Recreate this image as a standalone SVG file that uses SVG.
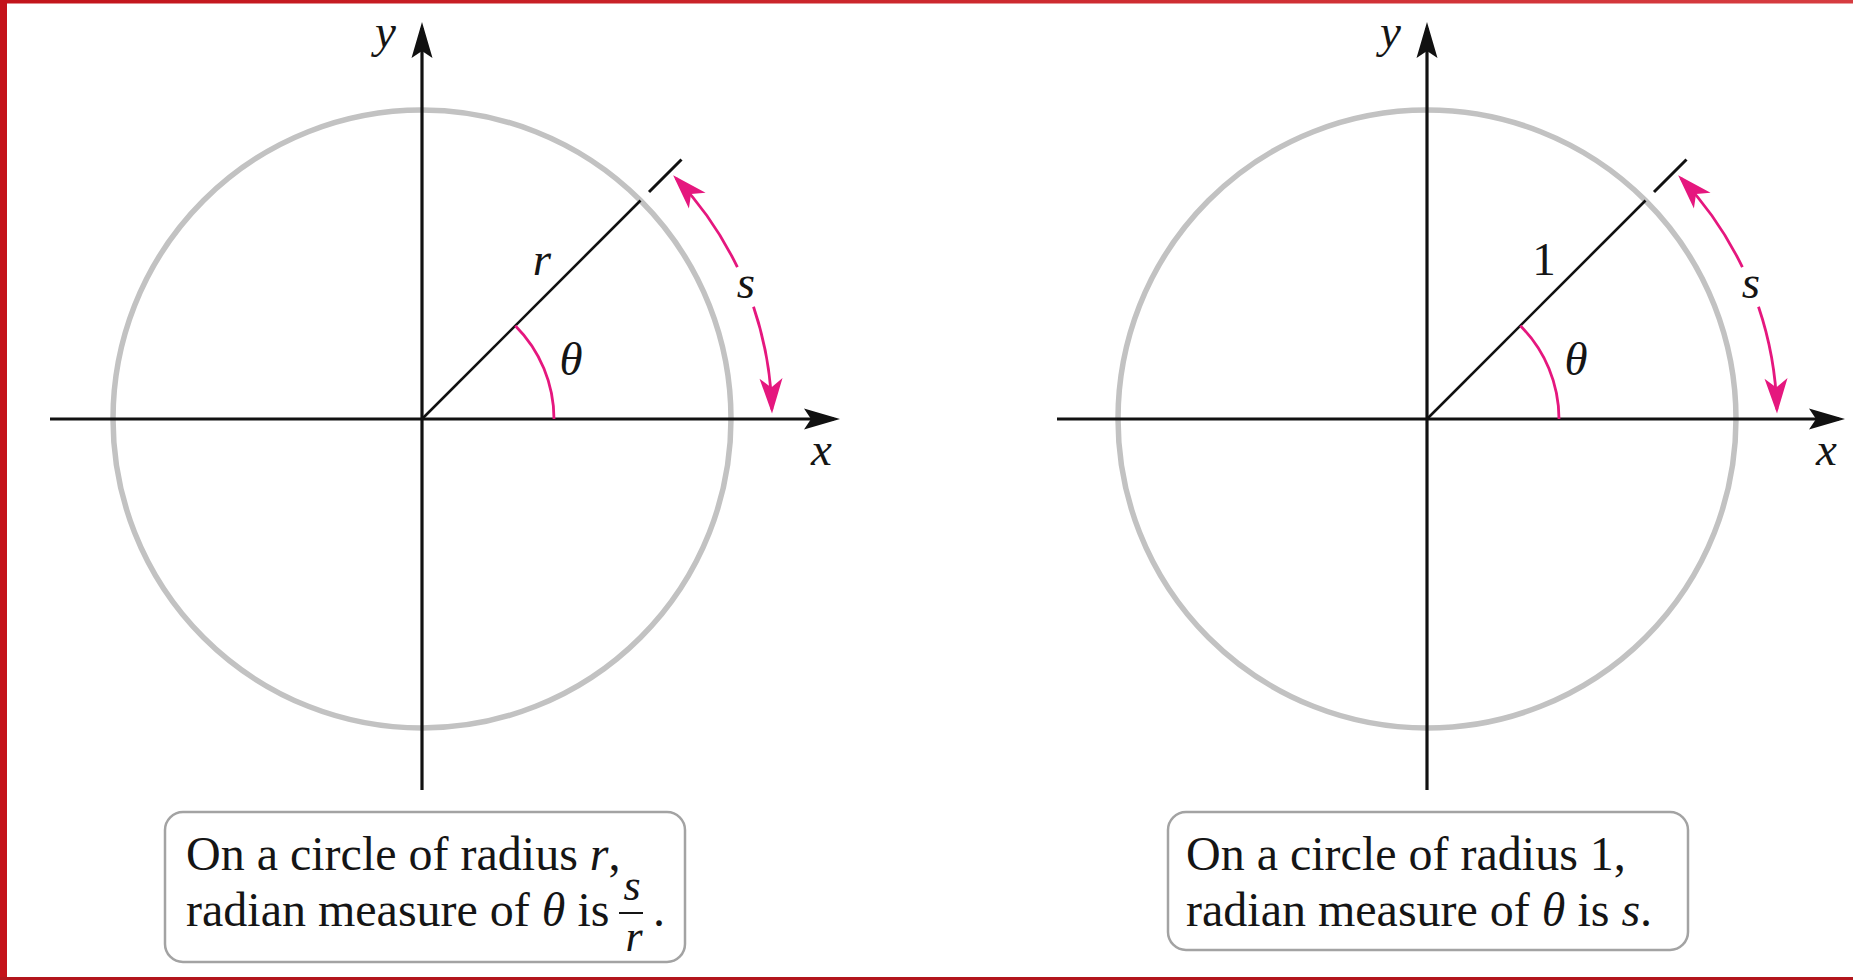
<svg xmlns="http://www.w3.org/2000/svg" width="1853" height="980" viewBox="0 0 1853 980">
<style>
  text { font-family: "Liberation Serif", "Times New Roman", serif; fill: #151515; }
  .lbl { font-size: 47px; font-style: italic; }
  .up { font-style: normal; }
  .it { font-style: italic; }
  .box-text { font-size: 48px; }
  .circ { fill: none; stroke: #c2c2c2; stroke-width: 5.5; }
  .axis { fill: none; stroke: #111; stroke-width: 3.2; }
  .rad { fill: none; stroke: #111; stroke-width: 2.6; }
  .tick { fill: none; stroke: #111; stroke-width: 3; }
  .pink { fill: none; stroke: #e5177e; stroke-width: 2.8; }
  .box { fill: #ffffff; stroke: #a3a3a3; stroke-width: 2.5; }
</style>
<defs>
  <linearGradient id="topbar" x1="0" y1="0" x2="1" y2="0">
    <stop offset="0" stop-color="#c2141b"/>
    <stop offset="1" stop-color="#d63c40"/>
  </linearGradient>
  <marker id="axisArrow" markerUnits="userSpaceOnUse" viewBox="-34 -13 42 26" markerWidth="42" markerHeight="26" refX="0" refY="0" orient="auto">
    <path d="M6,0 L-30,-10.5 L-23,0 L-30,10.5 Z" fill="#111"/>
  </marker>
  <marker id="pinkArrow" markerUnits="userSpaceOnUse" viewBox="-36 -14 42 28" markerWidth="42" markerHeight="28" refX="0" refY="0" orient="auto">
    <path d="M4,0 L-31,-11.5 L-22,0 L-31,11.5 Z" fill="#e5177e"/>
  </marker>
</defs>

<rect x="0" y="0" width="1853" height="980" fill="#ffffff"/>

<g id="frame">
  <rect x="0" y="0" width="1853" height="3.5" fill="url(#topbar)"/>
  <rect x="0" y="0" width="7" height="980" fill="#c4121a"/>
  <rect x="0" y="977" width="1853" height="3" fill="#b3161d"/>
</g>

<g id="panel-left">
  <g id="left-circle">
    <circle class="circ" cx="422" cy="419" r="309"/>
  </g>
  <g id="left-connectors">
    <path class="axis" d="M50,419 L834,419" marker-end="url(#axisArrow)"/>
    <path class="axis" d="M422,790 L422,28" marker-end="url(#axisArrow)"/>
    <path class="rad" d="M422,419 L640.5,200.5"/>
    <path class="tick" d="M649,192 L681.5,159.5"/>
    <path class="pink" d="M554,419 A132,132 0 0 0 515.3,325.7"/>
    <path class="pink" d="M737.4,267.2 A350,350 0 0 0 675.9,178.1" marker-end="url(#pinkArrow)"/>
    <path class="pink" d="M753.5,306.8 A350,350 0 0 1 771.9,409.4" marker-end="url(#pinkArrow)"/>
  </g>
  <g id="left-labels">
    <text class="lbl" x="375" y="47">y</text>
    <text class="lbl" x="811" y="465">x</text>
    <text class="lbl" x="542" y="275" text-anchor="middle">r</text>
    <text class="lbl" x="571" y="375" text-anchor="middle">θ</text>
    <text class="lbl" x="746" y="298" text-anchor="middle">s</text>
  </g>
  <g id="left-box">
    <rect class="box" x="165" y="812" width="520" height="150" rx="18" ry="18"/>
    <text class="box-text" x="186" y="870">On a circle of radius <tspan class="it">r</tspan>,</text>
    <text class="box-text" x="186" y="926">radian measure of <tspan class="it">θ</tspan> is</text>
    <text class="it" x="632" y="900" font-size="44" text-anchor="middle">s</text>
    <line x1="619" y1="913" x2="643" y2="913" stroke="#151515" stroke-width="2"/>
    <text class="it" x="634" y="951" font-size="44" text-anchor="middle">r</text>
    <text class="box-text" x="653" y="926">.</text>
  </g>
</g>

<g id="panel-right" transform="translate(1005,0)">
  <g id="right-circle">
    <circle class="circ" cx="422" cy="419" r="309"/>
  </g>
  <g id="right-connectors">
    <path class="axis" d="M52,419 L834,419" marker-end="url(#axisArrow)"/>
    <path class="axis" d="M422,790 L422,28" marker-end="url(#axisArrow)"/>
    <path class="rad" d="M422,419 L640.5,200.5"/>
    <path class="tick" d="M649,192 L681.5,159.5"/>
    <path class="pink" d="M554,419 A132,132 0 0 0 515.3,325.7"/>
    <path class="pink" d="M737.4,267.2 A350,350 0 0 0 675.9,178.1" marker-end="url(#pinkArrow)"/>
    <path class="pink" d="M753.5,306.8 A350,350 0 0 1 771.9,409.4" marker-end="url(#pinkArrow)"/>
  </g>
  <g id="right-labels">
    <text class="lbl" x="375" y="47">y</text>
    <text class="lbl" x="811" y="465">x</text>
    <text class="lbl up" x="539" y="275" text-anchor="middle">1</text>
    <text class="lbl" x="571" y="375" text-anchor="middle">θ</text>
    <text class="lbl" x="746" y="298" text-anchor="middle">s</text>
  </g>
  <g id="right-box">
    <rect class="box" x="163" y="812" width="520" height="138" rx="18" ry="18"/>
    <text class="box-text" x="181" y="870">On a circle of radius 1,</text>
    <text class="box-text" x="181" y="926">radian measure of <tspan class="it">θ</tspan> is <tspan class="it">s</tspan>.</text>
  </g>
</g>
</svg>
